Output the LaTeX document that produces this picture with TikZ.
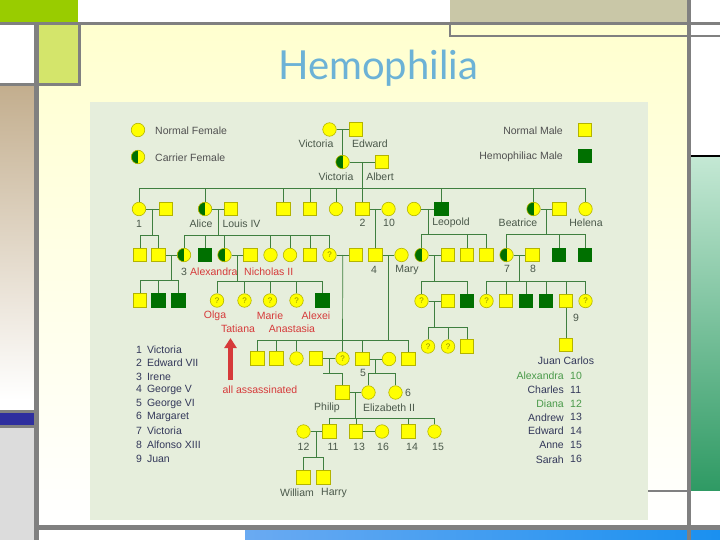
\documentclass[tikz,border=0pt]{standalone}
\usepackage{fontspec}
\setmainfont{Liberation Sans}
\newfontfamily\titlefont{Lato}
\usepackage{xcolor}
\usepackage{tikz}
\usetikzlibrary{arrows.meta}

\definecolor{panelbg}{HTML}{E6EEDC}
\definecolor{slidecream}{HTML}{FFFFCF}
\definecolor{slidegray}{HTML}{808080}
\definecolor{limegreen}{HTML}{99CC00}
\definecolor{palelime}{HTML}{D4E56B}
\definecolor{khaki}{HTML}{C9C7A7}
\definecolor{sandtop}{HTML}{C3AE8E}
\definecolor{barblue}{HTML}{2E2E9E}
\definecolor{barlight}{HTML}{DCDCDC}
\definecolor{seatop}{HTML}{C4E8D4}
\definecolor{seabot}{HTML}{2F9A64}
\definecolor{skyleft}{HTML}{6AAAF2}
\definecolor{skyright}{HTML}{1A90F0}
\definecolor{titleblue}{HTML}{6CB2D6}
\definecolor{symyellow}{HTML}{FFFF00}
\definecolor{symedge}{HTML}{B4B400}
\definecolor{hemo}{HTML}{007000}
\definecolor{kinline}{HTML}{3F7F3F}
\definecolor{namegray}{HTML}{4A584A}
\definecolor{keygray}{HTML}{505050}
\definecolor{listnavy}{HTML}{33385A}
\definecolor{royalred}{HTML}{D63A3A}
\definecolor{royalgreen}{HTML}{4A9A4A}

\newcommand{\chartfont}{\fontsize{10.5}{12}\selectfont}

\begin{document}
\begin{tikzpicture}[x=1pt,y=-1pt]
\tikzstyle{female}=[circle, draw=symedge, fill=symyellow, line width=0.6pt, minimum size=13.5pt, inner sep=0pt]
\tikzstyle{male}=[rectangle, draw=symedge, fill=symyellow, line width=0.6pt, minimum size=13.5pt, inner sep=0pt]
\tikzstyle{hemomale}=[male, draw=hemo, fill=hemo]
\tikzstyle{carrier}=[female, path picture={\fill[hemo] (path picture bounding box.south west) rectangle (path picture bounding box.north);}]
\tikzstyle{unknown}=[female, text=symedge!80!black, font=\fontsize{8}{8}\selectfont]
\tikzstyle{kin}=[draw=kinline, line width=0.7pt]
\tikzstyle{drop}=[kin, to path={-| (\tikztotarget)}]
\tikzstyle{tag}=[text=namegray, font=\chartfont, inner sep=0pt]
\tikzstyle{redtag}=[tag, text=royalred]
\tikzstyle{keytext}=[tag, text=keygray]
\tikzstyle{listtext}=[tag, text=listnavy]
\tikzstyle{greentext}=[tag, text=royalgreen]

% slide background
\useasboundingbox (0,0) rectangle (720,540);
\fill[white] (0,0) rectangle (720,540);
\shade[top color=slidecream, bottom color=white] (39,25) rectangle (687,525);
\fill[limegreen] (0,0) rectangle (78,22);
\fill[khaki] (450,0) rectangle (687,22);
\fill[palelime] (39,25) rectangle (78,83);
\shade[top color=sandtop, bottom color=white] (0,86) rectangle (34,400);
\fill[barblue] (0,413) rectangle (34,425);
\fill[barlight] (0,428) rectangle (34,540);
\fill[slidegray] (0,410) rectangle (34,413);
\fill[slidegray] (0,425) rectangle (34,428);
\shade[top color=seatop, bottom color=seabot] (691,157) rectangle (720,490);
\fill[black] (691,155) rectangle (720,157);
\shade[left color=skyleft, right color=skyright] (245,530) rectangle (720,540);
\fill[slidegray] (0,22) rectangle (720,25);
\fill[slidegray] (34,25) rectangle (39,540);
\fill[slidegray] (687,0) rectangle (691,540);
\fill[slidegray] (39,525) rectangle (720,530);
\fill[slidegray] (78,22) rectangle (81,86);
\fill[slidegray] (0,83) rectangle (81,86);
\draw[slidegray, line width=2pt] (450,22) -- (450,36) -- (720,36);
\fill[slidegray] (648,490) rectangle (687,492);
\fill[panelbg] (90,102) rectangle (648,520);

\node[text=titleblue, font=\titlefont\fontsize{40}{48}\selectfont] (title) at (378,68) {Hemophilia};

% key
\node[female] (keyF) at (138,130) {};
\node[keytext, anchor=west] (keyFt) at (155,131) {Normal Female};
\node[carrier] (keyC) at (138,157) {};
\node[keytext, anchor=west] (keyCt) at (155,158) {Carrier Female};
\node[male] (keyM) at (585,130) {};
\node[keytext, anchor=east] (keyMt) at (563,131) {Normal Male};
\node[hemomale] (keyH) at (585,156) {};
\node[keytext, anchor=east] (keyHt) at (563,157) {Hemophiliac Male};

% generation I and II
\node[female] (vicI) at (329.5,129.5) {};
\node[male] (edw) at (356,129.5) {};
\node[carrier] (vicII) at (342.5,162) {};
\node[male] (alb) at (382,162) {};
\node[tag] (tVicI) at (316,144) {Victoria};
\node[tag] (tEdw) at (370,144) {Edward};
\node[tag] (tVicII) at (336,177) {Victoria};
\node[tag] (tAlb) at (380,177) {Albert};
\coordinate (mI) at (342.5,129.5);
\coordinate (mII) at (362.5,162);
\coordinate (sII) at (362.5,188);

% generation III
\node[female] (vicA) at (139,209) {};
\node[male] (fred) at (166,209) {};
\node[carrier] (alice) at (205,209) {};
\node[male] (louis) at (231,209) {};
\node[male] (sonA) at (283.5,209) {};
\node[male] (sonB) at (310,209) {};
\node[female] (dauA) at (336,209) {};
\node[male] (edwVII) at (362.5,209) {};
\node[female] (alexandra) at (388.5,209) {};
\node[female] (helenaW) at (414,209) {};
\node[hemomale] (leopold) at (441.5,209) {};
\node[carrier] (beatrice) at (533.5,209) {};
\node[male] (henry) at (559.5,209) {};
\node[female] (helena) at (585.5,209) {};
\node[tag] (tVicA) at (139,224) {1};
\node[tag] (tAlice) at (201,224) {Alice};
\node[tag] (tLouis) at (241.5,224) {Louis IV};
\node[tag] (tEdwVII) at (362.5,223) {2};
\node[tag] (tAlexandra) at (389,223) {10};
\node[tag] (tLeopold) at (451,223) {Leopold};
\node[tag] (tBeatrice) at (518,223) {Beatrice};
\node[tag] (tHelena) at (586,223) {Helena};
\coordinate (mVF) at (152.5,209);
\coordinate (sVF) at (152.5,235);
\coordinate (mAL) at (218,209);
\coordinate (sAL) at (218,235);
\coordinate (mEA) at (375.5,209);
\coordinate (mHL) at (428,209);
\coordinate (sHL) at (428,234);
\coordinate (mBH) at (546.5,209);
\coordinate (sBH) at (546.5,234);

% generation IV
\node[male] (gA) at (140,255) {};
\node[male] (gB) at (158.5,255) {};
\node[carrier] (irene) at (184,255) {};
\node[hemomale] (fritz) at (205,255) {};
\node[carrier] (alix) at (224.5,255) {};
\node[male] (nicholas) at (250.5,255) {};
\node[female] (dauB) at (270.5,255) {};
\node[female] (dauC) at (290,255) {};
\node[male] (sonC) at (310,255) {};
\node[unknown] (dauD) at (329.5,255) {?};
\node[male] (andrewG) at (356,255) {};
\node[male] (georgeV) at (375.5,255) {};
\node[female] (mary) at (401.5,255) {};
\node[carrier] (aliceA) at (421.5,255) {};
\node[male] (alexC) at (448,255) {};
\node[male] (sonD) at (467,255) {};
\node[male] (sonE) at (486.5,255) {};
\node[carrier] (ena) at (506.5,255) {};
\node[male] (alfonso) at (532.5,255) {};
\node[hemomale] (sonF) at (559,255) {};
\node[hemomale] (sonG) at (585,255) {};
\node[tag] (tIrene) at (184,272) {3};
\node[redtag, anchor=west] (tAlix) at (190,272) {Alexandra};
\node[redtag, anchor=west] (tNicholas) at (244,272) {Nicholas II};
\node[tag] (tGeorgeV) at (374,270) {4};
\node[tag] (tMary) at (407,270) {Mary};
\node[tag] (tEna) at (507,269) {7};
\node[tag] (tAlfonso) at (533,269) {8};
\coordinate (mGI) at (171.5,255);
\coordinate (sGI) at (171.5,280);
\coordinate (mAN) at (237.5,255);
\coordinate (sAN) at (237.5,281);
\coordinate (mDA) at (342.75,255);
\coordinate (mGM) at (388.5,255);
\coordinate (sGM) at (388.5,340);
\coordinate (mAC) at (434.75,255);
\coordinate (sAC) at (434.75,281);
\coordinate (mEF) at (519.5,255);
\coordinate (sEF) at (519.5,281);

% generation V
\node[male] (sonH) at (140,300.5) {};
\node[hemomale] (sonI) at (158.5,300.5) {};
\node[hemomale] (sonJ) at (178.5,300.5) {};
\node[unknown] (olga) at (217,300.5) {?};
\node[unknown] (tatiana) at (244.5,300.5) {?};
\node[unknown] (marie) at (270,300.5) {?};
\node[unknown] (anastasia) at (296.5,300.5) {?};
\node[hemomale] (alexei) at (322.5,300.5) {};
\node[unknown] (may) at (421.5,301) {?};
\node[male] (alexM) at (448,301) {};
\node[hemomale] (rupert) at (467,301) {};
\node[unknown] (infA) at (486.5,301) {?};
\node[male] (infB) at (506,301) {};
\node[hemomale] (infC) at (526,301) {};
\node[hemomale] (infD) at (546,301) {};
\node[male] (juan) at (566,301) {};
\node[unknown] (infE) at (585.5,301) {?};
\node[redtag] (tOlga) at (215,316) {Olga};
\node[redtag] (tMarie) at (270,316) {Marie};
\node[redtag] (tAlexei) at (316,316) {Alexei};
\node[redtag] (tTatiana) at (238,329) {Tatiana};
\node[redtag] (tAnastasia) at (292,329) {Anastasia};
\node[tag] (tJuan) at (576,318) {9};
\node[male] (juanCarlos) at (566,345) {};
\node[listtext] (tJuanCarlos) at (566,361) {Juan Carlos};
\coordinate (mMA) at (434.75,301);
\coordinate (sMA) at (434.75,327);
\node[unknown] (grA) at (428,346.5) {?};
\node[unknown] (grB) at (448,346.5) {?};
\node[male] (grC) at (467,346.5) {};

\node[male] (gsA) at (257.5,358.5) {};
\node[male] (gsB) at (276.5,358.5) {};
\node[female] (gdA) at (296.5,358.5) {};
\node[male] (andrewP) at (316,358.5) {};
\node[unknown] (aliceB) at (342.5,358.5) {?};
\node[male] (georgeVI) at (362.5,359) {};
\node[female] (elizabeth) at (389,359) {};
\node[male] (gsC) at (408.5,359) {};
\node[tag] (tGeorgeVI) at (363,373) {5};
\coordinate (mPA) at (329.25,358.5);
\coordinate (sPA) at (329.25,373);
\coordinate (stubPA) at (323,373);
\coordinate (mGE) at (375.75,359);
\coordinate (sGE) at (375.75,373);

% generation VI
\node[male] (philip) at (342.5,392.5) {};
\node[female] (elizII) at (368.5,392.5) {};
\node[female] (margaret) at (395.5,392.5) {};
\node[tag] (tPhilip) at (327,408) {Philip};
\node[tag] (tElizII) at (389,408) {Elizabeth II};
\node[tag] (tMargaret) at (408,393) {6};
\coordinate (mPE) at (355.5,392.5);
\coordinate (sPE) at (355.5,418);

% generation VII
\node[female] (diana) at (303.5,431.5) {};
\node[male] (charles) at (329.5,431.5) {};
\node[male] (andrew) at (356,431.5) {};
\node[female] (sarah) at (382,431.5) {};
\node[male] (edward) at (408.5,431.5) {};
\node[female] (anne) at (434.5,431.5) {};
\node[tag] (tDiana) at (303.5,447) {12};
\node[tag] (tCharles) at (333,447) {11};
\node[tag] (tAndrew) at (359,447) {13};
\node[tag] (tSarah) at (383,447) {16};
\node[tag] (tEdward) at (412,447) {14};
\node[tag] (tAnne) at (438,447) {15};
\coordinate (mDC) at (316.5,431.5);
\coordinate (sDC) at (316.5,457);
\node[male] (william) at (303.5,477.5) {};
\node[male] (harry) at (323.5,477.5) {};
\node[tag] (tWilliam) at (297,493) {William};
\node[tag] (tHarry) at (334,493) {Harry};

% marriages
\path
(vicI) edge[kin] (edw)
(vicII) edge[kin] (alb)
(vicA) edge[kin] (fred)
(alice) edge[kin] (louis)
(edwVII) edge[kin] (alexandra)
(helenaW) edge[kin] (leopold)
(beatrice) edge[kin] (henry)
(gB) edge[kin] (irene)
(alix) edge[kin] (nicholas)
(dauD) edge[kin] (andrewG)
(georgeV) edge[kin] (mary)
(aliceA) edge[kin] (alexC)
(ena) edge[kin] (alfonso)
(may) edge[kin] (alexM)
(andrewP) edge[kin] (aliceB)
(georgeVI) edge[kin] (elizabeth)
(philip) edge[kin] (elizII)
(diana) edge[kin] (charles)
(andrew) edge[kin] (sarah);

% descent
\path
(mI) edge[kin] (vicII)
(mII) edge[kin] (sII)
(sII) edge[drop] (vicA)
      edge[drop] (alice)
      edge[drop] (sonA)
      edge[drop] (sonB)
      edge[drop] (dauA)
      edge[drop] (edwVII)
      edge[drop] (leopold)
      edge[drop] (beatrice)
      edge[drop] (helena)
(mVF) edge[kin] (sVF)
(sVF) edge[drop] (gA)
      edge[drop] (gB)
(mAL) edge[kin] (sAL)
(sAL) edge[drop] (irene)
      edge[drop] (fritz)
      edge[drop] (alix)
      edge[drop] (dauB)
      edge[drop] (dauC)
      edge[drop] (sonC)
      edge[drop] (dauD)
(mEA) edge[kin] (georgeV)
(mHL) edge[kin] (sHL)
(sHL) edge[drop] (aliceA)
      edge[drop] (sonD)
      edge[drop] (sonE)
(mBH) edge[kin] (sBH)
(sBH) edge[drop] (ena)
      edge[drop] (sonF)
      edge[drop] (sonG)
(mGI) edge[kin] (sGI)
(sGI) edge[drop] (sonH)
      edge[drop] (sonI)
      edge[drop] (sonJ)
(mAN) edge[kin] (sAN)
(sAN) edge[drop] (olga)
      edge[drop] (tatiana)
      edge[drop] (marie)
      edge[drop] (anastasia)
      edge[drop] (alexei)
(mAC) edge[kin] (sAC)
(sAC) edge[drop] (may)
      edge[drop] (rupert)
(mEF) edge[kin] (sEF)
(sEF) edge[drop] (infA)
      edge[drop] (infB)
      edge[drop] (infC)
      edge[drop] (infD)
      edge[drop] (juan)
      edge[drop] (infE)
(juan) edge[kin] (juanCarlos)
(mMA) edge[kin] (sMA)
(sMA) edge[drop] (grA)
      edge[drop] (grB)
      edge[drop] (grC)
(mDA) edge[kin] (aliceB)
(mGM) edge[kin] (sGM)
(sGM) edge[drop] (gsA)
      edge[drop] (gsB)
      edge[drop] (gdA)
      edge[drop] (georgeVI)
      edge[drop] (gsC)
(mPA) edge[kin] (sPA)
(stubPA) edge[kin] (sPA)
(sPA) edge[drop] (philip)
(mGE) edge[kin] (sGE)
(sGE) edge[drop] (elizII)
      edge[drop] (margaret)
(mPE) edge[kin] (sPE)
(sPE) edge[drop] (charles)
      edge[drop] (andrew)
      edge[drop] (edward)
      edge[drop] (anne)
(mDC) edge[kin] (sDC)
(sDC) edge[drop] (william)
      edge[drop] (harry);

% the murdered Romanovs
\coordinate (arrowFoot) at (230.5,380);
\coordinate (arrowTip) at (230.5,338);
\draw[royalred, line width=5pt, -{Triangle[width=12pt,length=10pt]}] (arrowFoot) -- (arrowTip);
\node[redtag] (tShot) at (260,390) {all assassinated};

% numbered names
\node[listtext, anchor=west] (n1) at (136,349.3) {1\hspace{5pt}Victoria};
\node[listtext, anchor=west] (n2) at (136,362.9) {2\hspace{5pt}Edward VII};
\node[listtext, anchor=west] (n3) at (136,376.5) {3\hspace{5pt}Irene};
\node[listtext, anchor=west] (n4) at (136,390.1) {4\hspace{5pt}George V};
\node[listtext, anchor=west] (n5) at (136,403.7) {5\hspace{5pt}George VI};
\node[listtext, anchor=west] (n6) at (136,417.3) {6\hspace{5pt}Margaret};
\node[listtext, anchor=west] (n7) at (136,431) {7\hspace{5pt}Victoria};
\node[listtext, anchor=west] (n8) at (136,445.2) {8\hspace{5pt}Alfonso XIII};
\node[listtext, anchor=west] (n9) at (136,459.3) {9\hspace{5pt}Juan};

\node[greentext, anchor=east] (r10) at (564,375.7) {Alexandra};
\node[greentext, anchor=west] (r10n) at (570,375.7) {10};
\node[listtext, anchor=east] (r11) at (564,390) {Charles};
\node[listtext, anchor=west] (r11n) at (570,390) {11};
\node[greentext, anchor=east] (r12) at (564,403.5) {Diana};
\node[greentext, anchor=west] (r12n) at (570,403.5) {12};
\node[listtext, anchor=east] (r13) at (564,417.3) {Andrew};
\node[listtext, anchor=west] (r13n) at (570,417.3) {13};
\node[listtext, anchor=east] (r14) at (564,431) {Edward};
\node[listtext, anchor=west] (r14n) at (570,431) {14};
\node[listtext, anchor=east] (r15) at (564,445.2) {Anne};
\node[listtext, anchor=west] (r15n) at (570,445.2) {15};
\node[listtext, anchor=east] (r16) at (564,459.3) {Sarah};
\node[listtext, anchor=west] (r16n) at (570,459.3) {16};
\end{tikzpicture}
\end{document}
